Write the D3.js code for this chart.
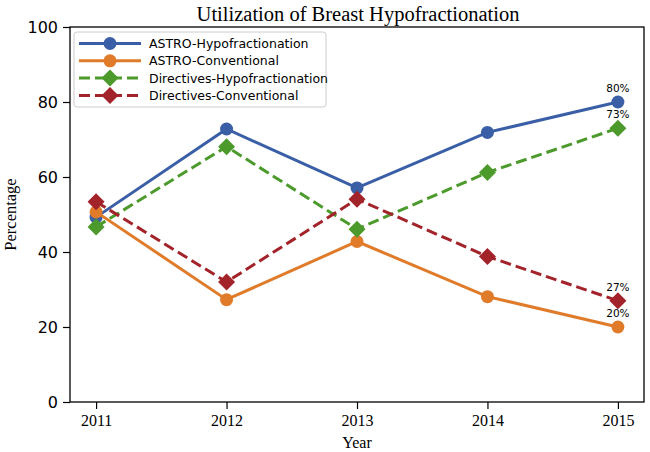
<!DOCTYPE html>
<html><head><meta charset="utf-8">
<script src="https://cdn.jsdelivr.net/npm/d3@7"></script>
<style>body{margin:0;background:#fff}</style>
</head><body>
<svg id="c" width="650" height="452"></svg>
<script>
const years = [2011, 2012, 2013, 2014, 2015];
const astroHypo = [49.3, 72.8, 57.1, 71.9, 80];
const astroConv = [50.7, 27.3, 42.8, 28.1, 20];
const dirHypo = [46.7, 68.1, 46.1, 61.2, 73];
const dirConv = [53.4, 32, 54.1, 38.8, 27];
const seriesNames = ["ASTRO-Hypofractionation", "ASTRO-Conventional", "Directives-Hypofractionation", "Directives-Conventional"];
const endLabels = ["80%", "20%", "73%", "27%"];
const yTicks = [0, 20, 40, 60, 80, 100];

const colors = ["#3b5fa6", "#e07b2a", "#4c9a2c", "#a3232a"];
const dashed = [false, false, true, true];
const shapes = ["circle", "circle", "diamond", "diamond"];
const series = [astroHypo, astroConv, dirHypo, dirConv].map((v, i) => ({name: seriesNames[i], values: v, label: endLabels[i]}));

const svg = d3.select("#c");
const L = 70, R = 644, T = 27, B = 402;
const x = d3.scaleLinear().domain([2010.8, 2015.2]).range([L, R]);
const y = d3.scaleLinear().domain([0, 100]).range([B, T]);

// frame
svg.append("rect").attr("x", L).attr("y", T).attr("width", R - L).attr("height", B - T)
  .attr("fill", "none").attr("stroke", "#000").attr("stroke-width", 1.3);

// axes
const xa = svg.append("g").attr("transform", `translate(0,${B})`)
  .call(d3.axisBottom(x).tickValues(years).tickFormat(d3.format("d")).tickSize(7).tickPadding(6));
xa.select(".domain").remove();
xa.selectAll("text").attr("font-family", "Liberation Serif").attr("font-size", 16).attr("fill", "#000");
xa.selectAll("line").attr("stroke", "#000").attr("stroke-width", 1.2);

const ya = svg.append("g").attr("transform", `translate(${L},0)`)
  .call(d3.axisLeft(y).tickValues(yTicks).tickSize(7).tickPadding(5));
ya.select(".domain").remove();
ya.selectAll("text").attr("font-family", "DejaVu Sans").attr("font-size", 16).attr("fill", "#000");
ya.selectAll("line").attr("stroke", "#000").attr("stroke-width", 1.2);

// labels
svg.append("text").attr("x", 358).attr("y", 21).attr("text-anchor", "middle")
  .attr("font-family", "Liberation Serif").attr("font-size", 20.5).text("Utilization of Breast Hypofractionation");
svg.append("text").attr("x", (L + R) / 2).attr("y", 448).attr("text-anchor", "middle")
  .attr("font-family", "Liberation Serif").attr("font-size", 16).text("Year");
svg.append("text").attr("transform", `translate(16,${(T + B) / 2}) rotate(-90)`).attr("text-anchor", "middle")
  .attr("font-family", "Liberation Serif").attr("font-size", 16.5).text("Percentage");

function marker(g, shape, cx, cy, color) {
  if (shape === "circle") {
    g.append("circle").attr("cx", cx).attr("cy", cy).attr("r", 6.5).attr("fill", color);
  } else {
    const s = 8.5;
    g.append("path").attr("d", `M${cx},${cy - s}L${cx + s},${cy}L${cx},${cy + s}L${cx - s},${cy}Z`).attr("fill", color);
  }
}

const line = d3.line().x((d, i) => x(years[i])).y(d => y(d));
series.forEach((s, i) => {
  const g = svg.append("g");
  g.append("path").attr("d", line(s.values)).attr("fill", "none").attr("stroke", colors[i])
    .attr("stroke-width", 3).attr("stroke-dasharray", dashed[i] ? "11,5" : null);
  s.values.forEach((v, j) => marker(g, shapes[i], x(years[j]), y(v), colors[i]));
});

// end labels
series.forEach((s, i) => {
  const v = s.values[s.values.length - 1];
  svg.append("text").attr("x", x(years[years.length - 1])).attr("y", y(v) - 10)
    .attr("text-anchor", "middle").attr("font-family", "DejaVu Sans").attr("font-size", 10.5)
    .attr("fill", "#000").text(s.label);
});

// legend
const lg = svg.append("g");
lg.append("rect").attr("x", 74).attr("y", 32).attr("width", 252).attr("height", 75).attr("rx", 3)
  .attr("fill", "#fff").attr("fill-opacity", 0.85).attr("stroke", "#ccc");
series.forEach((s, i) => {
  const ly = 43.5 + i * 17.3;
  lg.append("line").attr("x1", 79).attr("x2", 141).attr("y1", ly).attr("y2", ly)
    .attr("stroke", colors[i]).attr("stroke-width", 3).attr("stroke-dasharray", dashed[i] ? "11,5" : null);
  marker(lg, shapes[i], 110, ly, colors[i]);
  lg.append("text").attr("x", 149).attr("y", ly + 4.5).attr("font-family", "DejaVu Sans")
    .attr("font-size", 12.5).attr("fill", "#000").text(s.name);
});
</script>
</body></html>
